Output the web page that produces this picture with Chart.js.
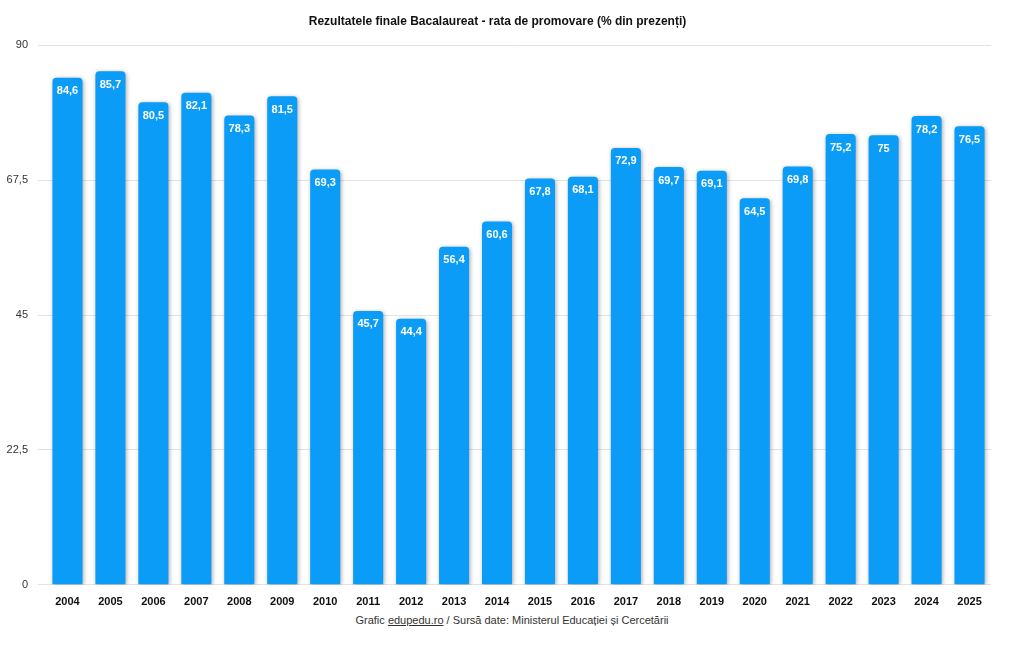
<!DOCTYPE html>
<html><head><meta charset="utf-8">
<script src="https://cdn.jsdelivr.net/npm/chart.js@4"></script>
<style>
body{margin:0;background:#fff;font-family:"Liberation Sans",Arial,sans-serif}
#wrap{position:relative;width:1024px;height:612px}
#foot{position:absolute;top:614px;left:0;width:1024px;text-align:center;font-size:11px;color:#333}
</style></head><body>
<div id="wrap"><canvas id="c"></canvas></div>
<div id="foot">Grafic <u>edupedu.ro</u> / Sursă date: Ministerul Educației și Cercetării</div>
<script>
const years=["2004","2005","2006","2007","2008","2009","2010","2011","2012","2013","2014","2015","2016","2017","2018","2019","2020","2021","2022","2023","2024","2025"];
const rates=[84.6,85.7,80.5,82.1,78.3,81.5,69.3,45.7,44.4,56.4,60.6,67.8,68.1,72.9,69.7,69.1,64.5,69.8,75.2,75,78.2,76.5];
const yTicks=[0,22.5,45,67.5,90];
const fmt=v=>String(v).replace('.',',');
const labels={id:'labels',afterDatasetsDraw(ch){const c=ch.ctx;c.save();c.fillStyle='#fff';c.font='bold 11px "Liberation Sans",Arial';c.textAlign='center';c.textBaseline='top';
ch.getDatasetMeta(0).data.forEach((b,i)=>c.fillText(fmt(rates[i]),b.x,b.y+8));c.restore();}};
const shadow={id:'shadow',beforeDatasetsDraw(ch){ch.ctx.save();ch.ctx.shadowColor='rgba(0,0,0,0.35)';ch.ctx.shadowBlur=4;ch.ctx.shadowOffsetX=1;ch.ctx.shadowOffsetY=1;},afterDatasetsDraw(ch){ch.ctx.restore();}};
new Chart(document.getElementById('c'),{type:'bar',
data:{labels:years,datasets:[{data:rates,backgroundColor:'#0a9cf7',borderRadius:{topLeft:4,topRight:4},borderSkipped:'bottom',barPercentage:0.7,categoryPercentage:1}]},
options:{responsive:true,maintainAspectRatio:false,animation:false,
layout:{padding:{left:4,right:33,top:0,bottom:0}},
plugins:{legend:{display:false},tooltip:{enabled:false},
title:{display:true,text:'Rezultatele finale Bacalaureat - rata de promovare (% din prezenți)',color:'#111',font:{size:12,weight:'bold',family:'"Liberation Sans",Arial'},padding:{top:14,bottom:17}}},
scales:{x:{grid:{display:false},border:{display:false},ticks:{color:'#111',font:{size:11,weight:'bold',family:'"Liberation Sans",Arial'}}},
y:{min:0,max:90,afterBuildTicks:a=>{a.ticks=yTicks.map(v=>({value:v}));},afterFit:a=>{a.width=42;},border:{display:false},grid:{color:'#e3e3e3'},
ticks:{color:'#333',padding:10,font:{size:11,family:'"Liberation Sans",Arial'},callback:v=>fmt(v)}}}},
plugins:[shadow,labels]});
</script></body></html>
